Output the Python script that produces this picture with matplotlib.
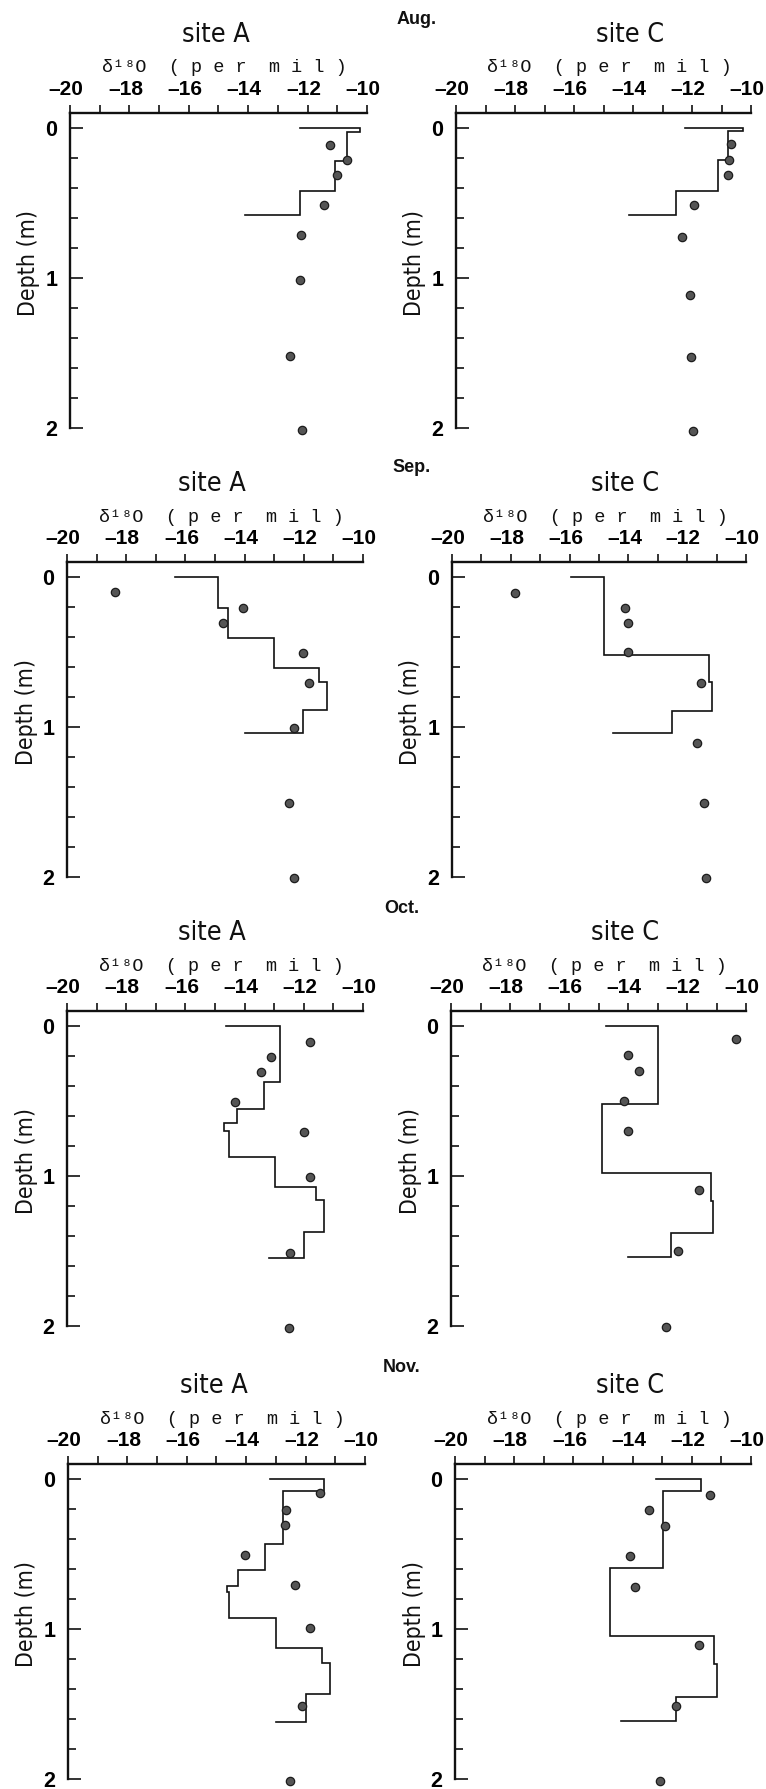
import matplotlib
matplotlib.use("Agg")
import matplotlib.pyplot as plt
from matplotlib import font_manager as fm
from matplotlib.transforms import ScaledTranslation

# ---------------------------------------------------------------- data
months = ["Aug.", "Sep.", "Oct.", "Nov."]
sites = ["site A", "site C"]
xticks_major = [-20, -18, -16, -14, -12, -10]
yticks_major = [0, 1, 2]

# Step profiles: layer boundaries (m), layer values (per mil),
# and the value where the outline starts (top) and ends (bottom).
aug_a_edges = [0, 0.027, 0.222, 0.42, 0.578]
aug_a_steps = [-10.22, -10.67, -11.07, -12.25]
aug_a_ends = [-12.25, -14.1]
aug_a_depth = [0.11, 0.21, 0.31, 0.516, 0.716, 1.016, 1.52, 2.016]
aug_a_d18o = [-11.24, -10.67, -11.01, -11.44, -12.22, -12.27, -12.6, -12.19]

aug_c_edges = [0, 0.02, 0.216, 0.42, 0.578]
aug_c_steps = [-10.26, -10.77, -11.13, -12.54]
aug_c_ends = [-12.25, -14.12]
aug_c_depth = [0.105, 0.21, 0.31, 0.515, 0.725, 1.11, 1.525, 2.02]
aug_c_d18o = [-10.68, -10.73, -10.79, -11.92, -12.33, -12.06, -12.03, -11.97]

sep_a_edges = [0, 0.209, 0.409, 0.604, 0.70, 0.887, 1.042]
sep_a_steps = [-14.91, -14.57, -13.02, -11.5, -11.22, -12.04]
sep_a_ends = [-16.36, -13.98]
sep_a_depth = [0.098, 0.204, 0.304, 0.504, 0.704, 1.004, 1.51, 2.01]
sep_a_d18o = [-18.37, -14.07, -14.73, -12.04, -11.81, -12.34, -12.51, -12.34]

sep_c_edges = [0, 0.522, 0.70, 0.896, 1.038]
sep_c_steps = [-14.82, -11.25, -11.17, -12.53]
sep_c_ends = [-15.94, -14.54]
sep_c_depth = [0.104, 0.204, 0.304, 0.5, 0.704, 1.104, 1.507, 2.007]
sep_c_d18o = [-17.87, -14.12, -14.03, -14.01, -11.54, -11.66, -11.42, -11.37]

oct_a_edges = [0, 0.37, 0.552, 0.648, 0.70, 0.875, 1.076, 1.16, 1.372, 1.548]
oct_a_steps = [-12.79, -13.33, -14.26, -14.68, -14.54, -12.96, -11.59, -11.31, -12.0]
oct_a_ends = [-14.63, -13.19]
oct_a_depth = [0.107, 0.207, 0.307, 0.508, 0.704, 1.004, 1.51, 2.01]
oct_a_d18o = [-11.78, -13.11, -13.45, -14.34, -11.98, -11.78, -12.45, -12.49]

oct_c_edges = [0, 0.519, 0.98, 1.169, 1.381, 1.537]
oct_c_steps = [-13.0, -14.88, -11.19, -11.11, -12.54]
oct_c_ends = [-14.75, -13.99]
oct_c_depth = [0.089, 0.196, 0.3, 0.5, 0.697, 1.09, 1.503, 2.007]
oct_c_d18o = [-10.34, -13.99, -13.62, -14.12, -13.99, -11.58, -12.32, -12.71]

nov_a_edges = [0, 0.082, 0.43, 0.608, 0.713, 0.75, 0.929, 1.129, 1.225, 1.43, 1.619]
nov_a_steps = [-11.39, -12.76, -13.36, -14.26, -14.65, -14.58, -12.98, -11.46, -11.18, -11.99]
nov_a_ends = [-13.19, -12.98]
nov_a_depth = [0.096, 0.205, 0.305, 0.506, 0.708, 0.996, 1.51, 2.01]
nov_a_d18o = [-11.5, -12.65, -12.68, -14.03, -12.36, -11.84, -12.12, -12.51]

nov_c_edges = [0, 0.078, 0.59, 1.047, 1.236, 1.452, 1.615]
nov_c_steps = [-11.69, -12.98, -14.78, -11.24, -11.15, -12.53]
nov_c_ends = [-13.22, -14.38]
nov_c_depth = [0.105, 0.207, 0.312, 0.512, 0.717, 1.107, 1.51, 2.01]
nov_c_d18o = [-11.4, -13.46, -12.92, -14.08, -13.91, -11.76, -12.55, -13.07]

panels = [
    [(aug_a_edges, aug_a_steps, aug_a_ends, aug_a_depth, aug_a_d18o),
     (aug_c_edges, aug_c_steps, aug_c_ends, aug_c_depth, aug_c_d18o)],
    [(sep_a_edges, sep_a_steps, sep_a_ends, sep_a_depth, sep_a_d18o),
     (sep_c_edges, sep_c_steps, sep_c_ends, sep_c_depth, sep_c_d18o)],
    [(oct_a_edges, oct_a_steps, oct_a_ends, oct_a_depth, oct_a_d18o),
     (oct_c_edges, oct_c_steps, oct_c_ends, oct_c_depth, oct_c_d18o)],
    [(nov_a_edges, nov_a_steps, nov_a_ends, nov_a_depth, nov_a_d18o),
     (nov_c_edges, nov_c_steps, nov_c_ends, nov_c_depth, nov_c_d18o)],
]

# ---------------------------------------------------------------- fonts
_entries = fm.fontManager.ttflist
_names = {e.name for e in _entries}
if "Liberation Sans Narrow" in _names:
    NARROW = dict(family="Liberation Sans Narrow")
    NSCALE = 1.0
else:
    _cond = [e.name for e in _entries
             if str(e.stretch) in ("condensed", "semi-condensed", "extra-condensed")
             and e.name in ("DejaVu Sans", "Noto Sans", "Open Sans", "Roboto", "Liberation Sans")]
    if _cond:
        NARROW = dict(family=_cond[0], fontstretch="condensed")
        NSCALE = 0.92
    else:
        NARROW = dict(family="DejaVu Sans")
        NSCALE = 0.82
MONO = dict(family=["Liberation Mono", "DejaVu Sans Mono"])
TICK_X = fm.FontProperties(family="Liberation Sans", weight="bold", size=15)
TICK_Y = fm.FontProperties(family="Liberation Sans", weight="bold", size=15.5)

# ---------------------------------------------------------------- layout (pixels)
W, H = 766, 1789
row_top = [113, 562, 1011, 1464]
ax_h = 315
left_px = [[70, 456], [67, 452], [67, 451], [68, 455]]
right_px = [[367, 751], [363, 746], [363, 746], [365, 751]]
month_pos = [(397, 19), (392, 467), (384, 909), (383, 1368)]

fig = plt.figure(figsize=(W / 100, H / 100), dpi=100)
fig.patch.set_facecolor("white")
shift_left = ScaledTranslation(-4 / 100, 0, fig.dpi_scale_trans)

for r in range(4):
    for c in range(2):
        L, R = left_px[r][c], right_px[r][c]
        T = row_top[r]
        ax = fig.add_axes([L / W, 1 - (T + ax_h) / H, (R - L) / W, ax_h / H])
        edges, steps, ends, depth, d18o = panels[r][c]

        # staircase outline of the layered profile
        xs = [ends[0]]
        ys = [edges[0]]
        for i, v in enumerate(steps):
            xs += [v, v]
            ys += [edges[i], edges[i + 1]]
        xs.append(ends[1])
        ys.append(edges[-1])
        ax.plot(xs, ys, color="#111111", lw=1.2, solid_joinstyle="miter",
                clip_on=False, zorder=3)

        ax.plot(d18o, depth, "o", ms=6.0, mfc="#555555", mec="#1c1c1c",
                mew=0.9, clip_on=False, zorder=4)

        ax.set_xlim(-20, -10)
        ax.set_ylim(2, -0.1)
        for s in ("bottom", "right"):
            ax.spines[s].set_visible(False)
        for s in ("top", "left"):
            ax.spines[s].set_linewidth(1.7)
            ax.spines[s].set_color("#111111")

        ax.xaxis.tick_top()
        ax.set_xticks(xticks_major)
        ax.set_xticks(list(range(-19, -10, 2)), minor=True)
        ax.set_xticklabels([f"\u2013{abs(v)}" for v in xticks_major])
        ax.tick_params(axis="x", which="both", direction="out", length=6,
                       width=1.2, color="#111111", top=True, bottom=False,
                       labeltop=True, labelbottom=False, pad=4)

        ax.set_yticks(yticks_major)
        ax.set_yticks([0.2, 0.4, 0.6, 0.8, 1.2, 1.4, 1.6, 1.8], minor=True)
        ax.set_yticklabels([str(v) for v in yticks_major])
        ax.tick_params(axis="y", which="major", direction="in", length=9,
                       width=1.2, color="#111111", pad=9)
        ax.tick_params(axis="y", which="minor", direction="in", length=6,
                       width=1.2, color="#111111")

        for lab in ax.get_xticklabels():
            lab.set_fontproperties(TICK_X)
            lab.set_transform(lab.get_transform() + shift_left)
        for lab in ax.get_yticklabels():
            lab.set_fontproperties(TICK_Y)

        axw = R - L
        ax.text(0.52, 1 + 45 / ax_h, "\u03b4\u00b9\u2078O  ( p e r  m i l )",
                transform=ax.transAxes, ha="center", va="center",
                fontsize=13.3, color="#111111", **MONO)
        ax.text(0.49 if c == 0 else 0.59, 1 + 78 / ax_h, sites[c],
                transform=ax.transAxes, ha="center", va="center",
                fontsize=21 * NSCALE, color="#111111", **NARROW)
        ax.text(-41 / axw, 1 - 150 / ax_h, "Depth (m)", rotation=90,
                transform=ax.transAxes, ha="center", va="center",
                fontsize=18 * NSCALE, color="#111111", **NARROW)

for m, (px, py) in zip(months, month_pos):
    fig.text(px / W, 1 - py / H, m, ha="left", va="center",
             fontsize=13, fontweight="bold", family="Liberation Sans",
             color="#111111")

fig.savefig("out.png", dpi=100, facecolor="white")
